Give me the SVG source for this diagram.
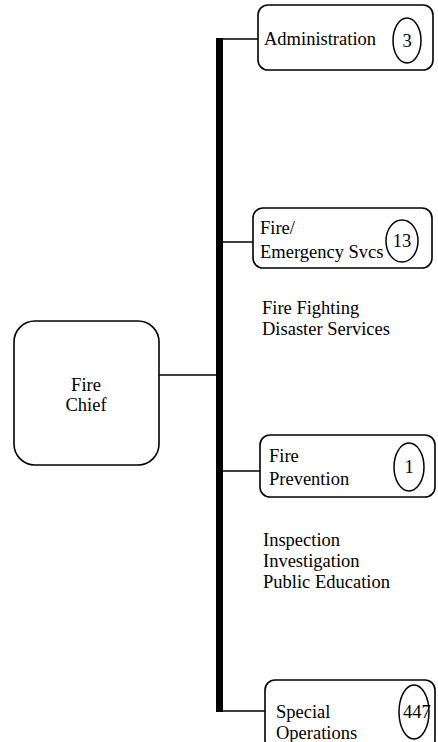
<svg xmlns="http://www.w3.org/2000/svg" width="438" height="742" viewBox="0 0 438 742">
<style>
.box{fill:#fff;stroke:#000;stroke-width:1.6}
.oval{fill:#fff;stroke:#000;stroke-width:1.5}
text{font-family:'Liberation Serif','Times New Roman',Times,serif;font-size:18.5px;fill:#000}
.c{text-anchor:middle}
.ln{stroke:#000;stroke-width:1.6;fill:none}
</style>
<rect width="438" height="742" fill="#fff"/>
<g id="connectors">
<line class="ln" x1="159" y1="375" x2="218" y2="375"/>
<line class="ln" x1="218" y1="39" x2="259" y2="39"/>
<line class="ln" x1="218" y1="242" x2="254" y2="242"/>
<line class="ln" x1="218" y1="471" x2="260" y2="471"/>
<line class="ln" x1="218" y1="711" x2="266" y2="711"/>
<rect x="216" y="38" width="7" height="674" fill="#000"/>
</g>
<g id="fire-chief">
<rect class="box" x="14" y="321" width="145" height="144" rx="21"/>
<text class="c" x="86" y="391">Fire</text>
<text class="c" x="86" y="411">Chief</text>
</g>
<g id="administration">
<rect class="box" x="258" y="5" width="175" height="65" rx="10"/>
<text x="264" y="45">Administration</text>
<ellipse class="oval" cx="407" cy="40.5" rx="14" ry="22.5"/>
<text class="c" x="407" y="47">3</text>
</g>
<g id="fire-emergency">
<rect class="box" x="253" y="208" width="179" height="60" rx="10"/>
<text x="260" y="234">Fire/</text>
<text x="260" y="258">Emergency Svcs</text>
<ellipse class="oval" cx="402" cy="241" rx="16" ry="21"/>
<text class="c" x="402" y="247">13</text>
</g>
<g id="fire-emergency-duties">
<text x="262" y="314">Fire Fighting</text>
<text x="262" y="335">Disaster Services</text>
</g>
<g id="fire-prevention">
<rect class="box" x="260" y="435" width="175" height="62" rx="10"/>
<text x="269" y="462">Fire</text>
<text x="269" y="485">Prevention</text>
<ellipse class="oval" cx="409" cy="467" rx="15" ry="24"/>
<text class="c" x="409" y="473">1</text>
</g>
<g id="fire-prevention-duties">
<text x="263" y="546">Inspection</text>
<text x="263" y="567">Investigation</text>
<text x="263" y="588">Public Education</text>
</g>
<g id="special-operations">
<rect class="box" x="265" y="680" width="170" height="70" rx="10"/>
<text x="276" y="718">Special</text>
<text x="276" y="739">Operations</text>
<ellipse class="oval" cx="414" cy="712" rx="15" ry="27"/>
<text x="403" y="718">447</text>
</g>
</svg>
